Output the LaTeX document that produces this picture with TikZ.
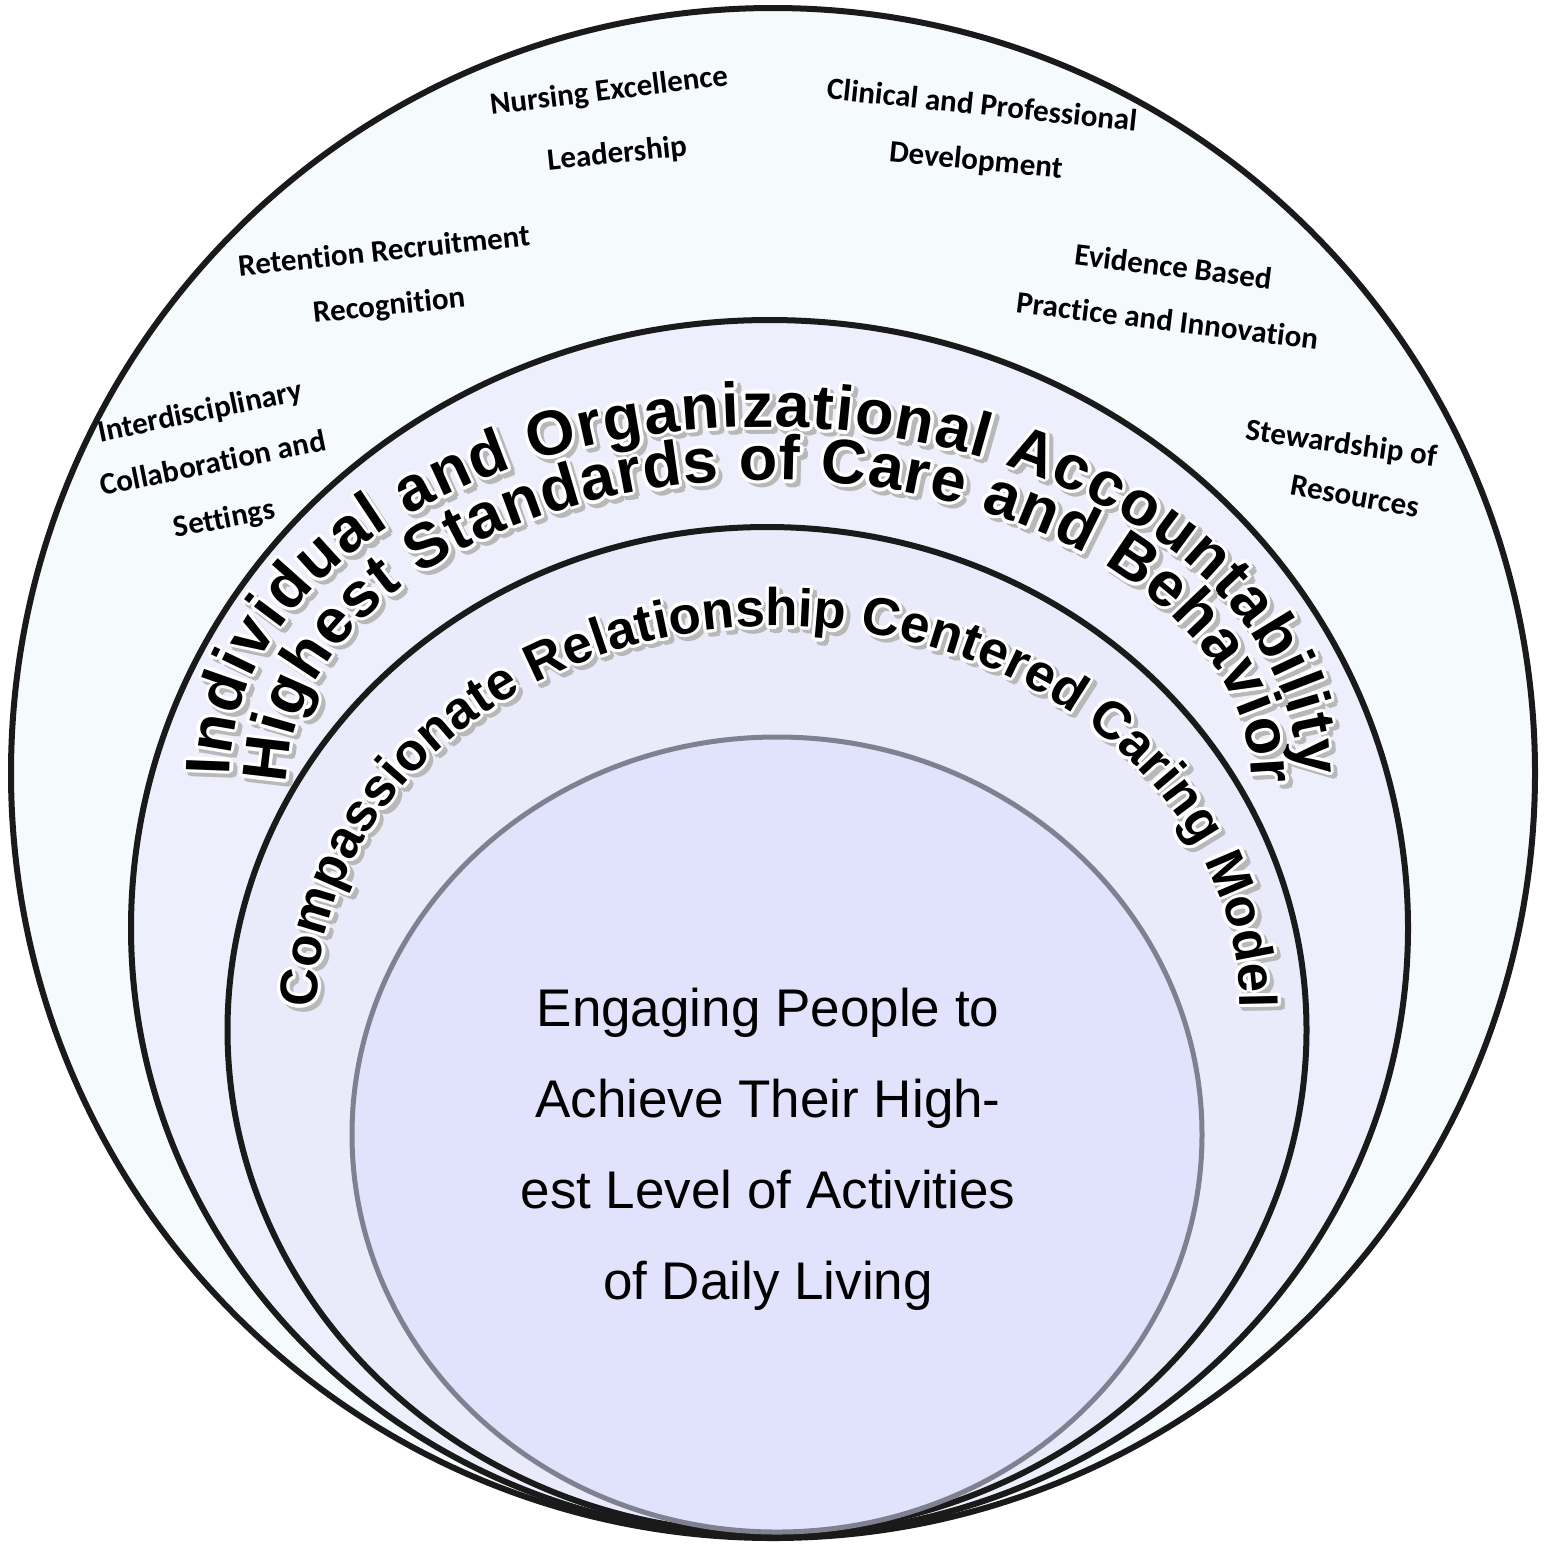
\documentclass[tikz,border=0pt]{standalone}
\usepackage{fontspec}
\setmainfont{Liberation Sans}
\newfontfamily\labelfont{Carlito}[Ligatures=NoCommon]
\usetikzlibrary{decorations.text}
\definecolor{ringA}{HTML}{F5FAFD}
\definecolor{ringB}{HTML}{EEEFFC}
\definecolor{ringC}{HTML}{E9EBFB}
\definecolor{ringD}{HTML}{E0E3FB}
\definecolor{strokeblack}{HTML}{1A1A1A}
\definecolor{strokegray}{HTML}{7F8191}
\definecolor{shadowgray}{HTML}{B8B8B8}
\tikzset{
  ringline/.style={line width=3pt, draw=strokeblack},
  innerline/.style={line width=2.5pt, draw=strokegray},
  smalllabel/.style={font=\labelfont\bfseries\fontsize{15.5}{18}\selectfont, anchor=base, inner sep=0pt},
  centertext/.style={font=\fontsize{26.5}{30}\selectfont, anchor=base, inner sep=0pt},
}
% #1 font size (pt), #2 path, #3 text
\newcommand\archtext[3]{%
  \foreach \ang in {0,45,...,315}{%
    \path[decorate, shift={(2pt,-2pt)}, shift={(\ang:1.6pt)},
      decoration={text along path, text color=shadowgray, text align=fit to path,
        text={|\bfseries\fontsize{#1}{#1}\selectfont|#3}}] #2;
  }%
  \foreach \ang in {0,30,...,330}{%
    \path[decorate, shift={(\ang:1.6pt)},
      decoration={text along path, text color=white, text align=fit to path,
        text={|\bfseries\fontsize{#1}{#1}\selectfont|#3}}] #2;
  }%
  \path[decorate,
    decoration={text along path, text color=black, text align=fit to path,
      text={|\bfseries\fontsize{#1}{#1}\selectfont|#3}}] #2;
}
\begin{document}
\begin{tikzpicture}[x=0.5pt,y=-0.5pt]
\useasboundingbox (0,0) rectangle (1546,1544);
\fill[white] (0,0) rectangle (1546,1544);

% rings
\draw[ringline, fill=ringA] (773,773) ellipse [x radius=762, y radius=765];
\draw[ringline, fill=ringB] (769.5,928) ellipse [x radius=638.5, y radius=608];
\draw[ringline, fill=ringC] (767,1030) ellipse [x radius=539.5, y radius=503];
\draw[innerline, fill=ringD] (777,1134.5) ellipse [x radius=425, y radius=397.5];

% arched titles
\archtext{31.5}{(763.5,775) ++(180:533.5 and 348) arc[start angle=180, end angle=360, x radius=533.5, y radius=348]}{Individual and Organizational Accountability}
\archtext{31.5}{(769.5,784) ++(180:482.5 and 304) arc[start angle=180, end angle=360, x radius=482.5, y radius=304]}{Highest Standards of Care and Behavior}
\archtext{26.5}{(778.5,1008) ++(180:461.5 and 382) arc[start angle=180, end angle=360, x radius=461.5, y radius=382]}{Compassionate Relationship Centered Caring Model}

% outer ring labels
\node[smalllabel, rotate=7] (nurse1) at (610,100) {Nursing Excellence};
\node[smalllabel, rotate=6] (nurse2) at (618,163) {Leadership};
\node[smalllabel, rotate=-6] (clin1) at (981,115) {Clinical and Professional};
\node[smalllabel, rotate=-5.5] (clin2) at (975,170) {Development};
\node[smalllabel, rotate=6] (ret1) at (385,261) {Retention Recruitment};
\node[smalllabel, rotate=6] (ret2) at (390,315) {Recognition};
\node[smalllabel, rotate=-7] (evi1) at (1172,277) {Evidence Based};
\node[smalllabel, rotate=-7] (evi2) at (1166,331) {Practice and Innovation};
\node[smalllabel, rotate=11.7] (int1) at (202,421) {Interdisciplinary};
\node[smalllabel, rotate=11.5] (int2) at (215,473) {Collaboration and};
\node[smalllabel, rotate=11] (int3) at (226,528) {Settings};
\node[smalllabel, rotate=-8] (ste1) at (1340,453) {Stewardship of};
\node[smalllabel, rotate=-10] (ste2) at (1353,506) {Resources};

% centre text
\node[centertext] (c1) at (768,1026) {Engaging People to};
\node[centertext] (c2) at (768,1117) {Achieve Their High-};
\node[centertext] (c3) at (768,1208) {est Level of Activities};
\node[centertext] (c4) at (768,1299) {of Daily Living};
\end{tikzpicture}
\end{document}
